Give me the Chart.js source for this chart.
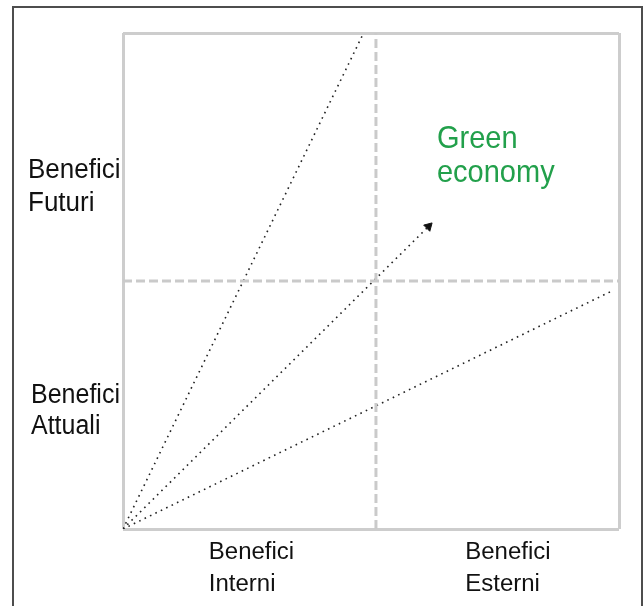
<!DOCTYPE html>
<html>
<head>
<meta charset="utf-8">
<script src="https://cdn.jsdelivr.net/npm/chart.js@4"></script>
<style>
  html, body { margin: 0; padding: 0; background: #fff; }
  #wrap { position: relative; width: 643px; height: 606px; overflow: hidden; }
  #frame { position: absolute; left: 12px; top: 6px; width: 631px; height: 640px;
           border: 2px solid #4d4d4d; box-sizing: border-box; pointer-events: none; }
  canvas { position: absolute; left: 0; top: 0; }
</style>
</head>
<body>
<div id="wrap">
  <canvas id="c" width="643" height="606"></canvas>
  <div id="frame"></div>
</div>
<script>
// ---- data ----
const axisRange = [0, 10];
const dividerX = 5.1;          // vertical dashed divider (internal | external)
const dividerY = 5.0;          // horizontal dashed divider (current | future)
const rayFuture   = [{x: 0, y: 0}, {x: 4.85, y: 10}];
const rayGreen    = [{x: 0, y: 0}, {x: 6.16, y: 6.10}];
const rayExternal = [{x: 0, y: 0}, {x: 9.86, y: 4.8}];
const leftLabels   = [["Benefici", "Futuri"], ["Benefici", "Attuali"]];
const bottomLabels = [["Benefici", "Interni"], ["Benefici", "Esterni"]];
const greenLabel   = ["Green", "economy"];

const dividerColor = '#cacaca';
const rayStyle = {
  showLine: true, borderColor: '#222', borderWidth: 1.6,
  borderDash: [1.6, 4.4], pointRadius: 0, fill: false
};

function drawText(ctx, txt, x, y, sy) {
  ctx.save();
  ctx.translate(x, y);
  ctx.scale(1, sy);
  ctx.fillText(txt, 0, 0);
  ctx.restore();
}

const textPlugin = {
  id: 'quadrantText',
  afterDraw(chart) {
    const ctx = chart.ctx;
    const xs = chart.scales.x, ys = chart.scales.y;
    ctx.save();
    ctx.textBaseline = 'alphabetic';
    ctx.textAlign = 'left';
    ctx.fillStyle = '#111';
    // left labels
    ctx.font = '26px "Liberation Sans", Arial, sans-serif';
    const fy = ys.getPixelForValue(7.07);
    drawText(ctx, leftLabels[0][0], 28, fy, 1.08);
    drawText(ctx, leftLabels[0][1], 28, fy + 33, 1.08);
    ctx.font = '25px "Liberation Sans", Arial, sans-serif';
    const ay = ys.getPixelForValue(2.54);
    drawText(ctx, leftLabels[1][0], 31, ay, 1.08);
    drawText(ctx, leftLabels[1][1], 31, ay + 31, 1.08);
    // bottom labels
    ctx.font = '24px "Liberation Sans", Arial, sans-serif';
    const bx = [xs.getPixelForValue(1.73), xs.getPixelForValue(6.9)];
    bottomLabels.forEach((lab, i) => {
      drawText(ctx, lab[0], bx[i], 559, 1.03);
      drawText(ctx, lab[1], bx[i], 591, 1.03);
    });
    // green economy
    ctx.fillStyle = '#22a04b';
    ctx.font = '29px "Liberation Sans", Arial, sans-serif';
    const gx = xs.getPixelForValue(6.33);
    const gy = ys.getPixelForValue(7.68);
    drawText(ctx, greenLabel[0], gx, gy, 1.05);
    drawText(ctx, greenLabel[1], gx, gy + 34, 1.05);
    ctx.restore();
  }
};

const arrowAngle = Math.atan2(rayGreen[1].x, rayGreen[1].y) * 180 / Math.PI;

new Chart(document.getElementById('c'), {
  type: 'scatter',
  data: {
    datasets: [
      { data: [{x: dividerX, y: axisRange[0]}, {x: dividerX, y: axisRange[1]}],
        showLine: true, borderColor: dividerColor, borderWidth: 3,
        borderDash: [9, 4], pointRadius: 0 },
      { data: [{x: axisRange[0], y: dividerY}, {x: axisRange[1], y: dividerY}],
        showLine: true, borderColor: dividerColor, borderWidth: 3,
        borderDash: [9, 4], pointRadius: 0 },
      Object.assign({ data: rayFuture }, rayStyle),
      Object.assign({ data: rayExternal }, rayStyle),
      Object.assign({ data: rayGreen }, rayStyle, {
        pointRadius: [0, 5], pointStyle: 'triangle', pointRotation: arrowAngle,
        pointBackgroundColor: '#111', pointBorderColor: '#111', pointBorderWidth: 1
      })
    ]
  },
  options: {
    responsive: false,
    animation: false,
    layout: { padding: { left: 123, top: 33, right: 24, bottom: 77 } },
    plugins: { legend: { display: false }, tooltip: { enabled: false } },
    scales: {
      x: {
        type: 'linear', min: axisRange[0], max: axisRange[1],
        afterBuildTicks: s => { s.ticks = axisRange.map(v => ({value: v})); },
        ticks: { display: false },
        grid: { color: '#cdcdcd', lineWidth: 3, drawTicks: false },
        border: { display: false }
      },
      y: {
        type: 'linear', min: axisRange[0], max: axisRange[1],
        afterBuildTicks: s => { s.ticks = axisRange.map(v => ({value: v})); },
        ticks: { display: false },
        grid: { color: '#cdcdcd', lineWidth: 3, drawTicks: false },
        border: { display: false }
      }
    }
  },
  plugins: [textPlugin]
});
</script>
</body>
</html>
